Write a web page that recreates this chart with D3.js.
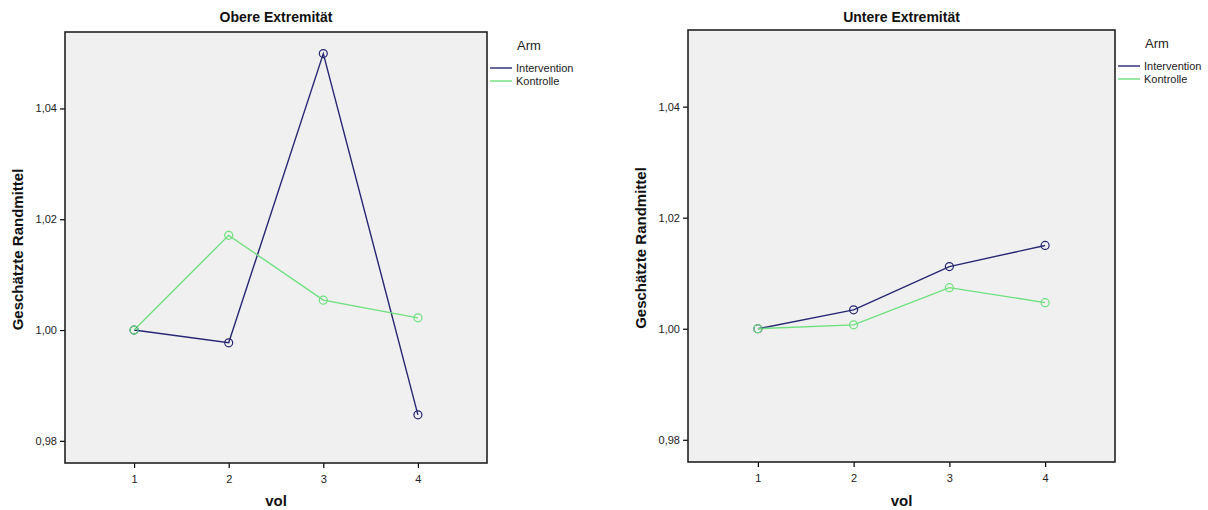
<!DOCTYPE html>
<html>
<head>
<meta charset="utf-8">
<script src="https://cdn.jsdelivr.net/npm/d3@7"></script>
<style>
  html, body { margin: 0; padding: 0; background: #ffffff; }
  svg { display: block; font-family: "Liberation Sans", Arial, sans-serif; }
</style>
</head>
<body>
<svg id="chart" width="1208" height="510"></svg>
<script>
// Time points (vol) and estimated marginal means per arm
const timepoints = [1, 2, 3, 4];
const armNames = ["Intervention", "Kontrolle"];
const armColors = ["#262673", "#6ee07e"];

const obereIntervention = [1.0000, 0.9977, 1.0499, 0.9847];
const obereKontrolle    = [1.0000, 1.0171, 1.0054, 1.0022];
const untereIntervention = [1.0000, 1.0034, 1.0112, 1.0150];
const untereKontrolle    = [1.0000, 1.0007, 1.0074, 1.0047];

const yTicks = [0.98, 1.00, 1.02, 1.04];
const yDomain = [0.9760, 1.0538];
const xDomain = [0.27, 4.73];

const panels = [
  { title: "Obere Extremität", series: [obereIntervention, obereKontrolle],
    left: 65, right: 487, top: 32, bottom: 463 },
  { title: "Untere Extremität", series: [untereIntervention, untereKontrolle],
    left: 688, right: 1115, top: 30, bottom: 462 }
];

const svg = d3.select("#chart");
const fmt = d => d3.format(".2f")(d).replace(".", ",");

panels.forEach(p => {
  const g = svg.append("g");
  const x = d3.scaleLinear().domain(xDomain).range([p.left, p.right]);
  const y = d3.scaleLinear().domain(yDomain).range([p.bottom, p.top]);

  // plot area
  g.append("rect")
    .attr("x", p.left).attr("y", p.top)
    .attr("width", p.right - p.left).attr("height", p.bottom - p.top)
    .attr("fill", "#f0f0f0").attr("stroke", "none");

  // axes
  const yAxis = d3.axisLeft(y).tickValues(yTicks).tickFormat(fmt).tickSize(5).tickSizeOuter(0);
  const gy = g.append("g").attr("transform", `translate(${p.left},0)`).call(yAxis);
  const xAxis = d3.axisBottom(x).tickValues(timepoints).tickFormat(d3.format("d")).tickSize(5).tickSizeOuter(0);
  const gx = g.append("g").attr("transform", `translate(0,${p.bottom})`).call(xAxis);
  [gx, gy].forEach(a => {
    a.select(".domain").remove();
    a.selectAll("line").attr("stroke", "#000").attr("stroke-width", 1.2);
    a.selectAll("text").attr("fill", "#222").style("font-size", "11px")
      .style("font-family", "Liberation Sans, Arial, sans-serif");
  });
  gx.selectAll("text").attr("dy", "1.05em");

  // frame
  g.append("rect")
    .attr("x", p.left).attr("y", p.top)
    .attr("width", p.right - p.left).attr("height", p.bottom - p.top)
    .attr("fill", "none").attr("stroke", "#222").attr("stroke-width", 1.6);

  // lines and circle markers
  const line = d3.line().x((d, i) => x(timepoints[i])).y(d => y(d));
  p.series.forEach((vals, s) => {
    g.append("path").datum(vals)
      .attr("d", line).attr("fill", "none")
      .attr("stroke", armColors[s]).attr("stroke-width", 1.4);
  });
  p.series.forEach((vals, s) => {
    g.selectAll(null).data(vals).enter().append("circle")
      .attr("cx", (d, i) => x(timepoints[i])).attr("cy", d => y(d))
      .attr("r", 4).attr("fill", "none")
      .attr("stroke", armColors[s]).attr("stroke-width", 1.2);
  });

  // titles
  const cx = (p.left + p.right) / 2;
  g.append("text").attr("x", cx).attr("y", 22).attr("text-anchor", "middle")
    .style("font-size", "14px").style("font-weight", "bold").attr("fill", "#111")
    .text(p.title);
  g.append("text").attr("x", cx).attr("y", 506).attr("text-anchor", "middle")
    .style("font-size", "15px").style("font-weight", "bold").attr("fill", "#111")
    .text("vol");
  g.append("text")
    .attr("transform", `translate(${p.left - 42},${(p.top + p.bottom) / 2 + 2}) rotate(-90)`)
    .attr("text-anchor", "middle")
    .style("font-size", "15px").style("font-weight", "bold").attr("fill", "#111")
    .text("Geschätzte Randmittel");

  // legend
  const lg = g.append("g").attr("transform", `translate(${p.right + 3},0)`);
  lg.append("text").attr("x", 27).attr("y", p.top + 18)
    .style("font-size", "13px").attr("fill", "#222").text("Arm");
  armNames.forEach((name, i) => {
    const ly = p.top + 36 + i * 13;
    lg.append("line").attr("x1", 0).attr("x2", 22).attr("y1", ly).attr("y2", ly)
      .attr("stroke", armColors[i]).attr("stroke-width", 1.4);
    lg.append("text").attr("x", 26).attr("y", ly + 4)
      .style("font-size", "11px").attr("fill", "#222").text(name);
  });
});
</script>
</body>
</html>
